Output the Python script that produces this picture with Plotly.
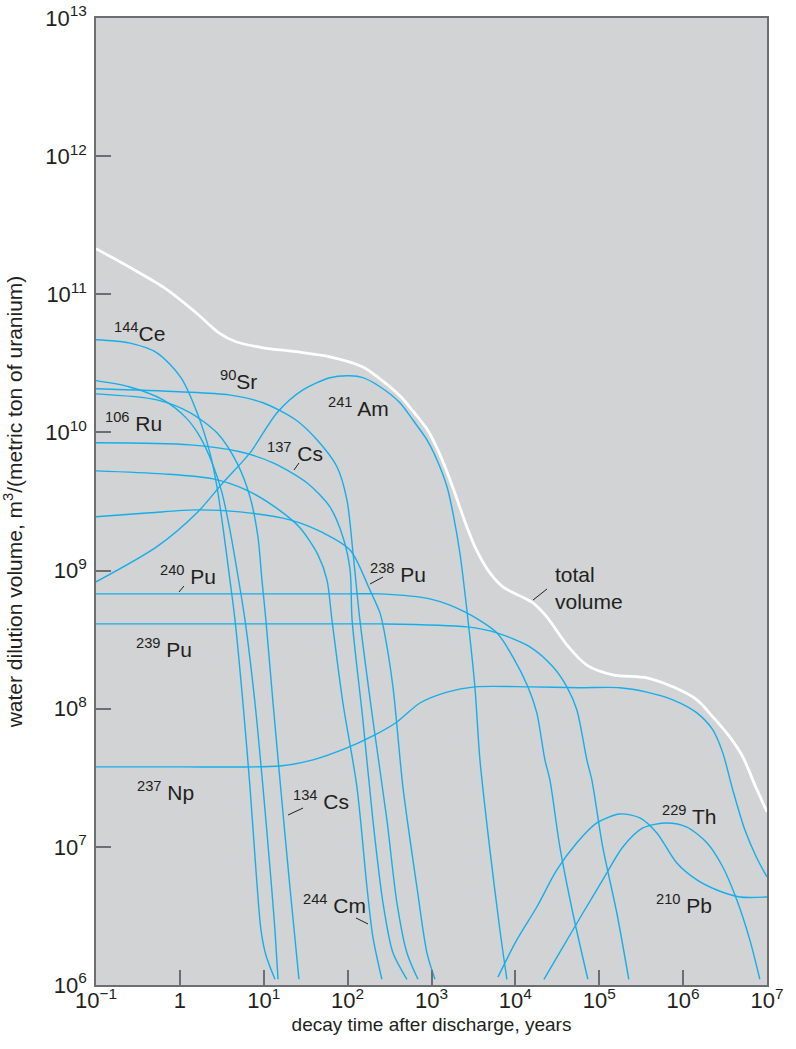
import plotly.graph_objects as go

# ---------------- data (years, m^3 per metric ton of uranium) ----------------
total_t = [0.1, 0.247, 0.63, 1.56, 2.92, 4.66, 9.8, 24.2, 61.5, 152, 243, 420, 600, 882, 1160, 1530,
           2010, 2640, 3480, 4970, 7100, 11300, 16200, 23700, 41100, 71100, 145000, 369000, 754000,
           1.46e6, 2.26e6, 3.6e6, 5.15e6, 7.16e6, 1e7]
total_v = [2.14e11, 1.58e11, 1.13e11, 7.35e10, 5.26e10, 4.53e10, 4.10e10, 3.84e10, 3.53e10,
           2.98e10, 2.44e10, 1.84e10, 1.43e10, 1.06e10, 7.73e9, 5.19e9, 3.30e9, 2.07e9, 1.39e9, 9.62e8,
           7.62e8, 6.56e8, 5.83e8, 4.62e8, 2.90e8, 2.07e8, 1.76e8, 1.67e8, 1.44e8, 1.16e8, 8.73e7,
           6.25e7, 4.48e7, 2.81e7, 1.79e7]

ce144_t = [0.1, 0.247, 0.533, 1.03, 1.64, 2.28, 2.77, 3.26, 3.95, 4.54, 5.65, 6.85, 8.07, 9.27, 10.6, 13.6]
ce144_v = [4.69e10, 4.45e10, 3.77e10, 2.49e10, 1.34e10, 7.11e9, 4.04e9, 2.07e9, 8.57e8, 4.40e8, 1.10e8,
           2.72e7, 6.80e6, 2.50e6, 1.65e6, 1.10e6]

ru106_t = [0.1, 0.247, 0.63, 1.18, 1.74, 2.48, 3.18, 3.95, 4.79, 5.97, 7.86, 9.78, 12.2, 13.6, 14.8]
ru106_v = [2.37e10, 2.14e10, 1.72e10, 1.28e10, 9.29e9, 5.82e9, 3.65e9, 1.97e9, 1.01e9, 4.40e8, 1.10e8,
           2.72e7, 5.76e6, 2.50e6, 1.10e6]

cs134_t = [0.1, 0.533, 1.32, 2.77, 4.79, 6.85, 8.53, 9.51, 10.6, 12.9, 16.0, 20.5, 26.3]
cs134_v = [1.90e10, 1.72e10, 1.39e10, 9.93e9, 6.02e9, 3.42e9, 1.75e9, 8.57e8, 4.40e8, 1.10e8, 2.58e7,
           5.12e6, 1.10e6]

sr90_t = [0.1, 0.975, 3.85, 9.78, 24.2, 43.1, 74.6, 98.1, 116, 140, 200, 294, 387, 509, 689]
sr90_v = [2.07e10, 1.97e10, 1.87e10, 1.64e10, 1.23e10, 8.84e9, 5.64e9, 3.25e9, 1.34e9, 4.40e8, 8.30e7,
          1.57e7, 3.93e6, 1.71e6, 1.10e6]

cs137_t = [0.1, 1.32, 5.20, 12.9, 32.7, 61.5, 87.9, 107, 113, 152, 200, 264, 347, 509]
cs137_v = [8.41e9, 8.13e9, 7.24e9, 6.02e9, 4.32e9, 2.89e9, 1.75e9, 1.01e9, 4.40e8, 8.30e7, 1.57e7,
           3.93e6, 1.71e6, 1.10e6]

cm244_t = [0.1, 0.63, 2.48, 6.13, 15.2, 27.0, 44.3, 56.7, 65.0, 87.9, 129, 170, 200, 256]
cm244_v = [5.27e9, 5.01e9, 4.61e9, 3.84e9, 2.75e9, 2.04e9, 1.30e9, 8.57e8, 4.40e8, 1.10e8, 2.72e7,
           5.12e6, 2.23e6, 1.10e6]

pu238_t = [0.1, 0.44, 1.56, 5.20, 20.5, 50.8, 107, 184, 243, 271, 347, 456, 670, 882, 1100]
pu238_v = [2.45e9, 2.62e9, 2.75e9, 2.66e9, 2.33e9, 1.88e9, 1.41e9, 7.25e8, 4.94e8, 3.72e8, 1.44e8,
           2.72e7, 5.12e6, 1.71e6, 1.10e6]

am241_t = [0.1, 0.533, 1.60, 3.26, 6.85, 14.4, 29.3, 61.5, 107, 152, 243, 420, 600, 882, 1160, 1530,
           1800, 2180, 2640, 3290, 3780, 4970, 6540, 7920]
am241_v = [8.28e8, 1.49e9, 2.62e9, 4.32e9, 7.11e9, 1.39e10, 2.03e10, 2.49e10, 2.57e10, 2.49e10, 2.14e10,
           1.64e10, 1.23e10, 8.84e9, 6.34e9, 4.04e9, 2.62e9, 1.34e9, 5.19e8, 1.44e8, 4.26e7, 9.50e6,
           2.50e6, 1.10e6]

pu240_t = [0.1, 1, 10, 100, 243, 957, 2500, 6010, 9330, 14100, 18000, 22500, 25800, 33900, 48400, 73100]
pu240_v = [6.78e8, 6.78e8, 6.78e8, 6.78e8, 6.78e8, 6.24e8, 5.02e8, 3.54e8, 2.37e8, 1.44e8, 9.33e7,
           4.26e7, 3.05e7, 9.98e6, 3.32e6, 1.10e6]

pu239_t = [0.1, 1, 10, 100, 243, 2640, 6010, 14900, 28000, 41100, 54100, 71100, 81600, 110000, 162000,
           225000]
pu239_v = [4.11e8, 4.11e8, 4.11e8, 4.11e8, 4.11e8, 3.91e8, 3.54e8, 2.80e8, 2.01e8, 1.44e8, 9.80e7,
           4.26e7, 3.05e7, 9.98e6, 3.32e6, 1.10e6]

np237_t = [0.1, 0.975, 15.6, 38.6, 98.1, 200, 387, 727, 1530, 3290, 14900, 58700, 176000, 369000, 754000,
           1.46e6, 2.26e6, 2.97e6, 3.91e6, 5.44e6, 7.56e6, 1e7]
np237_v = [3.79e7, 3.79e7, 3.85e7, 4.26e7, 5.20e7, 6.35e7, 8.02e7, 1.10e8, 1.32e8, 1.44e8, 1.44e8,
           1.42e8, 1.42e8, 1.32e8, 1.16e8, 9.33e7, 7.02e7, 4.79e7, 2.58e7, 1.33e7, 8.31e6, 6.05e6]

pb210_t = [6190, 10400, 18000, 31200, 54100, 93600, 176000, 305000, 486000, 841000, 1.46e6, 2.52e6,
           4.74e6, 1e7]
pb210_v = [1.14e6, 2.12e6, 3.67e6, 6.80e6, 1.07e7, 1.49e7, 1.73e7, 1.62e7, 1.26e7, 7.64e6, 5.76e6,
           4.87e6, 4.34e6, 4.34e6]

th229_t = [21900, 36800, 63800, 110000, 191000, 331000, 639000, 1.11e6, 1.92e6, 2.97e6, 4.37e6, 6.24e6,
           8.21e6]
th229_v = [1.10e6, 1.88e6, 3.32e6, 5.76e6, 9.98e6, 1.37e7, 1.49e7, 1.39e7, 1.07e7, 7.15e6, 4.12e6,
           2.12e6, 1.10e6]

x_tickvals = [0.1, 1, 10, 100, 1e3, 1e4, 1e5, 1e6, 1e7]
x_ticktext = ["10<sup>\u22121</sup>", "1", "10<sup>1</sup>", "10<sup>2</sup>", "10<sup>3</sup>",
              "10<sup>4</sup>", "10<sup>5</sup>", "10<sup>6</sup>", "10<sup>7</sup>"]
y_tickvals = [1e6, 1e7, 1e8, 1e9, 1e10, 1e11, 1e12, 1e13]
y_ticktext = ["10<sup>6</sup>", "10<sup>7</sup>", "10<sup>8</sup>", "10<sup>9</sup>", "10<sup>10</sup>",
              "10<sup>11</sup>", "10<sup>12</sup>", "10<sup>13</sup>"]

# label text, paper position (left edge x, middle y)
labels = [
    ("<sup>144</sup>Ce", 0.0238, 0.6753),
    ("<sup>90</sup>Sr", 0.1818, 0.6255),
    ("<sup>106</sup> Ru", 0.0104, 0.5822),
    ("<sup>137</sup> Cs", 0.2519, 0.5512),
    ("<sup>241</sup> Am", 0.3428, 0.5977),
    ("<sup>240</sup> Pu", 0.0924, 0.4240),
    ("<sup>238</sup> Pu", 0.4054, 0.4261),
    ("total<br>volume", 0.6811, 0.4105),
    ("<sup>239</sup> Pu", 0.0566, 0.3485),
    ("<sup>237</sup> Np", 0.0581, 0.2006),
    ("<sup>134</sup> Cs", 0.2906, 0.1913),
    ("<sup>244</sup> Cm", 0.3055, 0.0838),
    ("<sup>229</sup> Th", 0.8405, 0.1758),
    ("<sup>210</sup> Pb", 0.8316, 0.0838),
]
# leader lines in paper coordinates (x0, y0, x1, y1)
leaders = [
    (0.2951, 0.5326, 0.3025, 0.5398),
    (0.1237, 0.4064, 0.1311, 0.4126),
    (0.4084, 0.4147, 0.4277, 0.4219),
    (0.6513, 0.3981, 0.6721, 0.4095),
    (0.2862, 0.1758, 0.3085, 0.1830),
    (0.3875, 0.0693, 0.4054, 0.0631),
]

BLUE = "#16aee9"
TEXT = "#231f20"
AXIS = "#6d6e71"
FONT = "Liberation Sans, Arial, sans-serif"

series = [
    (ce144_t, ce144_v), (ru106_t, ru106_v), (cs134_t, cs134_v), (sr90_t, sr90_v),
    (cs137_t, cs137_v), (cm244_t, cm244_v), (pu238_t, pu238_v), (am241_t, am241_v),
    (pu240_t, pu240_v), (pu239_t, pu239_v), (np237_t, np237_v), (pb210_t, pb210_v),
    (th229_t, th229_v),
]

fig = go.Figure()
for t, v in series:
    fig.add_trace(go.Scatter(x=t, y=v, mode="lines",
                             line=dict(color=BLUE, width=1.4, shape="spline", smoothing=0.8),
                             hoverinfo="skip", showlegend=False))
fig.add_trace(go.Scatter(x=total_t, y=total_v, mode="lines",
                         line=dict(color="white", width=2.8, shape="spline", smoothing=0.8),
                         hoverinfo="skip", showlegend=False))

for text, xp, yp in labels:
    fig.add_annotation(text=text, x=xp, y=yp, xref="paper", yref="paper", showarrow=False,
                       xanchor="left", yanchor="middle", align="left",
                       font=dict(family=FONT, size=21, color=TEXT))
for x0, y0, x1, y1 in leaders:
    fig.add_shape(type="line", xref="paper", yref="paper", x0=x0, y0=y0, x1=x1, y1=y1,
                  line=dict(color=TEXT, width=1))

axis_common = dict(type="log", showgrid=False, zeroline=False, showline=True, mirror=True,
                   automargin=False, ticklabeloverflow="allow",
                   linecolor=AXIS, linewidth=1.5, ticks="inside", ticklen=15, tickwidth=1.5,
                   tickcolor=AXIS, tickfont=dict(family=FONT, size=22, color=TEXT))

fig.update_xaxes(range=[-1, 7], tickmode="array", tickvals=x_tickvals, ticktext=x_ticktext,
                 ticklabelstandoff=-5,
                 title=dict(text="decay time after discharge, years", standoff=6,
                            font=dict(family=FONT, size=19, color=TEXT)),
                 **axis_common)
fig.update_yaxes(range=[6, 13], tickmode="array", tickvals=y_tickvals, ticktext=y_ticktext,
                 ticklabelstandoff=3,
                 title=dict(text="water dilution volume, m<sup>3</sup>/(metric ton of uranium)",
                            standoff=19, font=dict(family=FONT, size=21, color=TEXT)),
                 **axis_common)

fig.update_layout(width=796, height=1049, margin=dict(l=96, r=29, t=18, b=64),
                  plot_bgcolor="#d1d3d4", paper_bgcolor="white",
                  font=dict(family=FONT, color=TEXT), showlegend=False)

# remove the browser's default 8 px body margin so the figure fills the window exactly
fig.write_html("out.html", config={"displayModeBar": False},
               post_script="document.body.style.margin='0px';")
